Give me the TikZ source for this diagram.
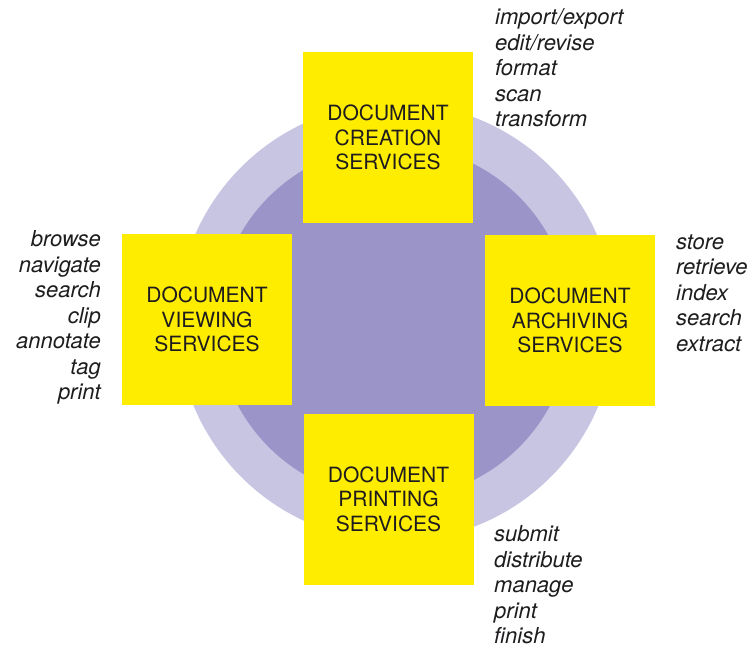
\documentclass[tikz,border=0pt]{standalone}
\usepackage{fontspec}
\setmainfont{TeX Gyre Heros}
\definecolor{outerring}{RGB}{200,197,227}
\definecolor{innerdisc}{RGB}{155,148,200}
\definecolor{boxyellow}{RGB}{255,237,0}
\definecolor{inkc}{RGB}{30,28,30}
\tikzset{
  servicebox/.style={fill=boxyellow, draw=none, inner sep=0pt,
    minimum width=170pt, minimum height=171pt, align=center,
    text=inkc, font=\fontsize{21}{24.5}\selectfont},
  tasklist/.style={inner sep=0pt, text=inkc,
    font=\fontsize{22}{25.5}\selectfont\itshape},
}
\begin{document}
\begin{tikzpicture}[x=1pt,y=-1pt]
\useasboundingbox (0,0) rectangle (753,649);
\fill[outerring] (396,322) circle[radius=219];
\fill[innerdisc] (394,322) circle[radius=177];

\node[servicebox] (create) at (388,137.5) {DOCUMENT\\CREATION\\SERVICES};
\node[servicebox] (view)   at (207,319.5) {DOCUMENT\\VIEWING\\SERVICES};
\node[servicebox] (archive) at (570,320.5) {DOCUMENT\\ARCHIVING\\SERVICES};
\node[servicebox] (print)  at (388.5,499) {DOCUMENT\\PRINTING\\SERVICES};

\node[tasklist, align=left, anchor=west] (createtasks) at (495,68)
  {import/export\\edit/revise\\format\\scan\\transform};
\node[tasklist, align=right, anchor=east] (viewtasks) at (101,317.5)
  {browse\\navigate\\search\\clip\\annotate\\tag\\print};
\node[tasklist, align=left, anchor=west] (archivetasks) at (676,293)
  {store\\retrieve\\index\\search\\extract};
\node[tasklist, align=left, anchor=west] (printtasks) at (494,585)
  {submit\\distribute\\manage\\print\\finish};
\end{tikzpicture}
\end{document}
